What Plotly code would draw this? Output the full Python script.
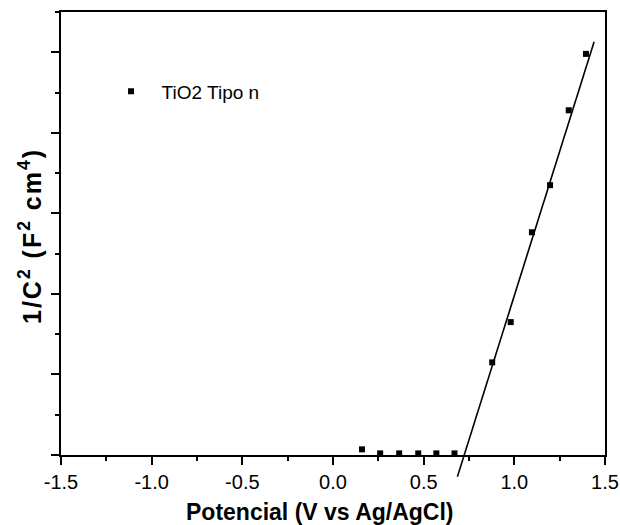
import plotly.graph_objects as go

# Mott-Schottky data: potential (V vs Ag/AgCl) and 1/C^2
pot = [0.16, 0.26, 0.365, 0.47, 0.57, 0.67, 0.878, 0.98, 1.097, 1.197, 1.30, 1.395]
inv_c2 = [0.07, 0.02, 0.02, 0.02, 0.02, 0.02, 1.15, 1.65, 2.765, 3.35, 4.28, 4.98]

# linear fit of the depletion region (end points of the drawn line)
fit_x = [0.686, 1.440]
fit_y = [-0.27, 5.13]

x_ticks = [-1.5, -1.0, -0.5, 0.0, 0.5, 1.0, 1.5]
x_labels = ["-1.5", "-1.0", "-0.5", "0.0", "0.5", "1.0", "1.5"]

Y_MAX = 5.5
W, H = 620, 525
M_L, M_R, M_T, M_B = 61, 15, 12, 40
AXIS_BOTTOM_PX = 455            # pixel row of the x axis
plot_w = W - M_L - M_R
plot_h = H - M_T - M_B
main_h = AXIS_BOTTOM_PX - M_T
d0 = 1 - main_h / plot_h        # main y domain start
px_per_unit = main_h / Y_MAX
y2_min = -(plot_h - main_h) / px_per_unit

FONT = "Arial, Liberation Sans, sans-serif"

fig = go.Figure()

fig.add_trace(go.Scatter(
    x=pot, y=inv_c2, mode="markers", name="\u00a0\u00a0TiO2 Tipo n",
    marker=dict(symbol="square", size=6, color="black"),
    xaxis="x", yaxis="y",
))

# fit line on an overlay pair of axes with the same scale, so it can run
# below the x axis
fig.add_trace(go.Scatter(
    x=fit_x, y=fit_y, mode="lines", showlegend=False,
    line=dict(color="black", width=1.6),
    xaxis="x2", yaxis="y2",
))

fig.update_layout(
    width=W, height=H,
    margin=dict(l=M_L, r=M_R, t=M_T, b=M_B, autoexpand=False),
    paper_bgcolor="white", plot_bgcolor="rgba(0,0,0,0)",
    font=dict(family=FONT, color="black", size=20),
    showlegend=True,
    legend=dict(x=0.092, y=0.832, xanchor="left", yanchor="middle",
                bgcolor="rgba(0,0,0,0)", font=dict(size=19, family=FONT)),
    xaxis=dict(
        range=[-1.5, 1.5], domain=[0, 1], anchor="y", automargin=False,
        tickmode="array", tickvals=x_ticks, ticktext=x_labels,
        ticks="outside", ticklen=8, tickwidth=1.5, tickcolor="black",
        minor=dict(dtick=0.25, tick0=0, ticks="outside", ticklen=4, tickwidth=1.5, tickcolor="black"),
        showline=True, linewidth=1.6, linecolor="black", mirror=True,
        showgrid=False, zeroline=False,
        tickfont=dict(size=20, family=FONT),
    ),
    yaxis=dict(
        range=[0, Y_MAX], domain=[d0, 1], anchor="x", automargin=False,
        tick0=0, dtick=1,
        ticks="outside", ticklen=8, tickwidth=1.5, tickcolor="black",
        minor=dict(dtick=0.5, tick0=0, ticks="outside", ticklen=4, tickwidth=1.5, tickcolor="black"),
        showline=True, linewidth=1.6, linecolor="black", mirror=True,
        showgrid=False, zeroline=False, showticklabels=False,
    ),
    yaxis3=dict(
        range=[0, Y_MAX], overlaying="y", side="right", anchor="x", automargin=False,
        tick0=0, dtick=0.5, ticks="outside", ticklen=3, tickwidth=1.2, tickcolor="black",
        showline=False, showgrid=False, zeroline=False, showticklabels=False,
    ),
    xaxis2=dict(range=[-1.5, 1.5], domain=[0, 1], anchor="y2", visible=False, matches="x"),
    yaxis2=dict(range=[y2_min, Y_MAX], domain=[0, 1], anchor="x2", visible=False),
    annotations=[
        dict(
            text="<b>Potencial (V vs Ag/AgCl)</b>",
            xref="paper", yref="paper",
            x=(320 - M_L) / plot_w, xanchor="center",
            y=(H - M_B - 512) / plot_h, yanchor="middle",
            showarrow=False, font=dict(size=23, family=FONT),
        ),
        dict(
            text="<span style='letter-spacing:2px'><b>1/C<sup>2</sup> (F<sup>2</sup> cm<sup>4</sup>)</b></span>",
            textangle=-90, xref="paper", yref="paper",
            x=-(M_L - 30) / plot_w, xanchor="center",
            y=(H - M_B - 236) / plot_h, yanchor="middle",
            showarrow=False, font=dict(size=25, family=FONT),
        ),
    ],
)

fig.write_html("out.html")
